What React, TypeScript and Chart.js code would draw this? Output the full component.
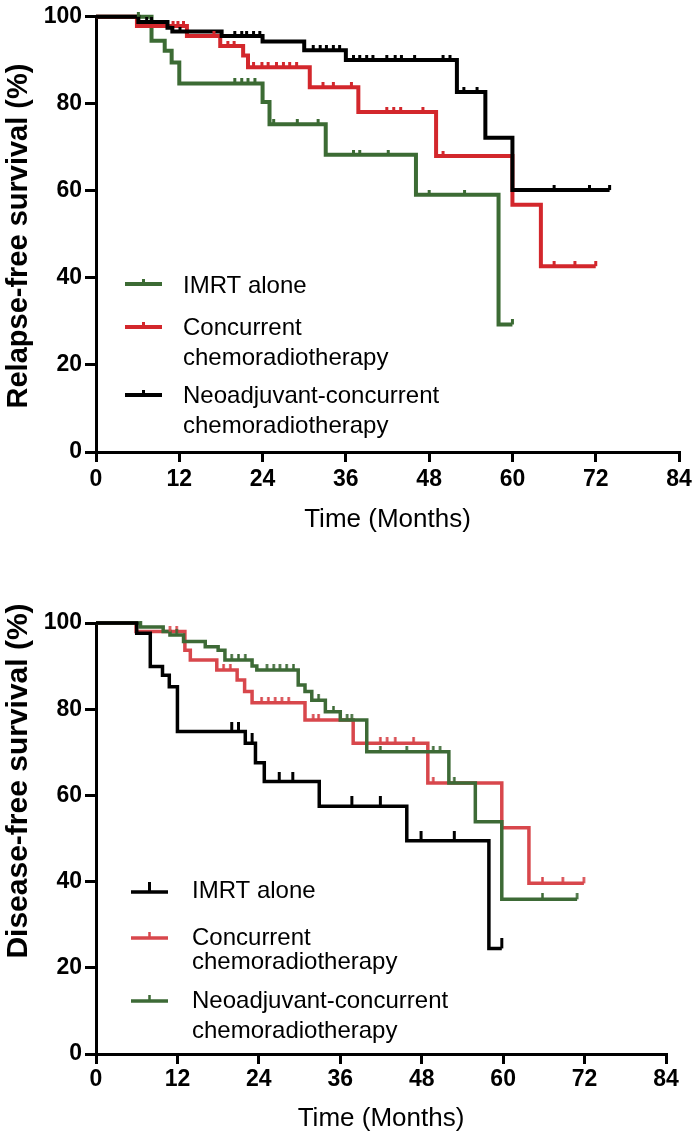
import React, { useEffect, useRef } from "react";
import { Chart, registerables } from "chart.js";
Chart.register(...registerables);

const FONT = "'Liberation Sans', Arial, Helvetica, sans-serif";

// ---------- shared axis ticks ----------
const xTickValues = [0, 12, 24, 36, 48, 60, 72, 84];
const yTickValues = [0, 20, 40, 60, 80, 100];

// ---------- Relapse-free survival (top) ----------
const rfsImrtTimes = [0, 8.0, 9.9, 10.9, 12.0, 24.0, 25.0, 33.1, 46.1, 58.0, 60.0];
const rfsImrtSurv = [100, 94.5, 92.2, 89.5, 84.7, 80.4, 75.3, 68.3, 59.1, 29.3, 29.3];
const rfsImrtCensor = [6.1, 20.0, 21.0, 21.9, 22.9, 25.6, 29.0, 32.0, 37.1, 38.0, 42.1, 48.0, 53.1, 60.0];

const rfsCcrtTimes = [0, 5.9, 13.1, 17.9, 21.2, 21.9, 30.8, 37.8, 49.0, 60.0, 64.1, 72.0];
const rfsCcrtSurv = [100, 97.9, 95.6, 93.3, 91.1, 88.4, 83.8, 78.1, 68.0, 56.8, 42.7, 42.7];
const rfsCcrtCensor = [11.1, 11.8, 12.6, 17.0, 19.0, 19.9, 22.7, 23.9, 24.8, 26.0, 27.0, 27.9, 28.9, 32.7, 34.2, 36.8, 41.9, 42.9, 43.9, 47.1, 50.0, 66.0, 69.0, 72.0];

const rfsNccrtTimes = [0, 6.1, 10.3, 11.0, 18.1, 24.0, 30.0, 36.0, 52.0, 56.1, 60.0, 74.0];
const rfsNccrtSurv = [100, 98.8, 97.5, 96.6, 95.6, 94.3, 92.3, 90.1, 82.7, 72.2, 60.2, 60.2];
const rfsNccrtCensor = [7.3, 8.0, 12.1, 20.0, 21.0, 21.7, 22.7, 23.6, 31.3, 32.3, 33.2, 34.2, 35.1, 37.1, 38.0, 39.0, 39.9, 41.9, 43.1, 44.0, 45.9, 50.0, 51.0, 53.0, 54.9, 66.0, 71.1, 74.0];

// ---------- Disease-free survival (bottom) ----------
const dfsImrtTimes = [0, 6.0, 8.0, 9.8, 10.8, 12.0, 22.0, 23.5, 24.8, 32.9, 45.8, 57.9, 59.8];
const dfsImrtSurv = [100, 97.6, 89.9, 87.9, 85.2, 74.8, 72.1, 67.6, 63.2, 57.5, 49.5, 24.5, 24.5];
const dfsImrtCensor = [20.0, 21.0, 23.0, 27.0, 29.0, 37.7, 41.9, 47.9, 52.8, 59.8];

const dfsCcrtTimes = [0, 5.9, 13.1, 13.9, 17.8, 20.8, 21.9, 23.0, 30.8, 37.9, 48.9, 59.8, 63.8, 71.9];
const dfsCcrtSurv = [100, 98.0, 93.7, 91.4, 89.1, 86.8, 84.1, 81.5, 77.5, 72.1, 62.9, 52.5, 39.6, 39.6];
const dfsCcrtCensor = [10.9, 11.9, 18.8, 19.8, 24.4, 25.4, 26.4, 27.4, 28.4, 32.0, 32.8, 41.9, 42.9, 44.1, 46.8, 49.7, 65.8, 68.8, 71.9];

const dfsNccrtTimes = [0, 6.5, 9.9, 10.9, 12.9, 16.1, 18.0, 19.0, 23.0, 23.7, 29.8, 30.8, 31.8, 33.8, 36.0, 39.9, 52.0, 55.9, 59.8, 70.9];
const dfsNccrtSurv = [100, 99.1, 98.0, 97.2, 95.7, 94.5, 93.7, 91.4, 90.0, 89.1, 85.6, 84.1, 82.1, 79.4, 77.5, 70.1, 62.9, 53.9, 35.9, 35.9];
const dfsNccrtCensor = [6.6, 11.9, 20.0, 21.0, 22.0, 25.2, 26.2, 27.1, 28.1, 29.1, 32.8, 35.0, 37.0, 37.7, 41.9, 45.8, 49.7, 50.7, 52.8, 65.8, 70.9];

const labelImrt = ["IMRT alone"];
const labelCcrt = ["Concurrent", "chemoradiotherapy"];
const labelNccrt = ["Neoadjuvant-concurrent", "chemoradiotherapy"];

const GREEN_TOP = "#3c6b34";
const RED_TOP = "#d3272c";
const GREEN_BOT = "#3d6a36";
const RED_BOT = "#d8474c";
const BLACK = "#000000";

function survAt(times: number[], surv: number[], t: number) {
  let v = surv[0];
  for (let i = 0; i < times.length; i++) if (times[i] <= t + 1e-9) v = surv[i];
  return v;
}

function makeMark(color: string, up: number, w: number) {
  const c = document.createElement("canvas");
  c.width = Math.ceil(w) + 2;
  c.height = up * 2;
  const g = c.getContext("2d")!;
  g.fillStyle = color;
  g.fillRect((c.width - w) / 2, 0, w, up);
  return c;
}

const legendPlugin = {
  id: "kmLegend",
  afterDraw(chart: any, _args: any, opts: any) {
    const { ctx } = chart;
    ctx.save();
    opts.items.forEach((it: any) => {
      ctx.strokeStyle = it.color;
      ctx.lineWidth = opts.lineWidth;
      ctx.lineCap = "butt";
      ctx.beginPath();
      ctx.moveTo(opts.x1, it.y);
      ctx.lineTo(opts.x2, it.y);
      ctx.stroke();
      if (it.mark) {
        ctx.drawImage(it.mark, (opts.x1 + opts.x2) / 2 - it.mark.width / 2, it.y - it.mark.height / 2);
      }
      ctx.fillStyle = "#000";
      ctx.font = opts.font;
      ctx.textAlign = "left";
      ctx.textBaseline = "middle";
      it.lines.forEach((t: string, i: number) => {
        ctx.fillText(t, opts.textX, it.textY + i * it.gap);
      });
    });
    ctx.restore();
  },
};

const yTitlePlugin = {
  id: "yTitle",
  afterDraw(chart: any, _args: any, opts: any) {
    const { ctx } = chart;
    ctx.save();
    ctx.translate(opts.x, opts.y);
    ctx.rotate(-Math.PI / 2);
    ctx.font = opts.font;
    ctx.fillStyle = "#000";
    ctx.textAlign = "center";
    ctx.textBaseline = "middle";
    ctx.fillText(opts.text, 0, 0);
    ctx.restore();
  },
};

type Group = {
  times: number[];
  surv: number[];
  censor: number[];
  color: string;
  lineWidth: number;
  mark: HTMLCanvasElement;
};

function buildConfig(p: any) {
  const groups: Group[] = p.groups;
  const datasets: any[] = [];
  groups.forEach((g) => {
    datasets.push({
      type: "line",
      data: g.times.map((t, i) => ({ x: t, y: g.surv[i] })),
      borderColor: g.color,
      borderWidth: g.lineWidth,
      stepped: true,
      pointRadius: 0,
      fill: false,
      clip: false,
      order: 1,
    });
    datasets.push({
      type: "scatter",
      data: g.censor.map((t) => ({ x: t, y: survAt(g.times, g.surv, t) })),
      pointStyle: g.mark,
      pointRadius: 4,
      showLine: false,
      clip: false,
      order: 0,
    });
  });

  const tickFont = { family: FONT, size: 23, weight: "bold" as const };
  return {
    type: "line",
    data: { datasets },
    options: {
      responsive: false,
      animation: false,
      devicePixelRatio: 1,
      events: [],
      layout: { padding: p.padding },
      plugins: {
        legend: { display: false },
        tooltip: { enabled: false },
        kmLegend: p.legend,
        yTitle: p.yTitle,
      },
      scales: {
        x: {
          type: "linear",
          min: 0,
          max: 84,
          afterBuildTicks: (s: any) => {
            s.ticks = xTickValues.map((v) => ({ value: v }));
          },
          afterFit: (s: any) => {
            s.height = p.xHeight;
          },
          ticks: { font: tickFont, color: "#000", padding: p.xTickPad, maxRotation: 0, autoSkip: false },
          grid: { drawOnChartArea: false, drawTicks: true, tickLength: 10, color: "#000", lineWidth: 3 },
          border: { display: true, color: "#000", width: 3 },
          title: {
            display: true,
            text: "Time (Months)",
            color: "#000",
            font: { family: FONT, size: 26, weight: "normal" },
            padding: { top: 0, bottom: p.xTitlePad },
          },
        },
        y: {
          type: "linear",
          min: 0,
          max: 100,
          afterBuildTicks: (s: any) => {
            s.ticks = yTickValues.map((v) => ({ value: v }));
          },
          afterFit: (s: any) => {
            s.width = 96;
          },
          ticks: { font: tickFont, color: "#000", padding: 3 },
          grid: { drawOnChartArea: false, drawTicks: true, tickLength: 11, color: "#000", lineWidth: 3 },
          border: { display: true, color: "#000", width: 3 },
        },
      },
    },
    plugins: [legendPlugin, yTitlePlugin],
  };
}

function KMChart({ make, top, height }: { make: () => any; top: number; height: number }) {
  const ref = useRef<HTMLCanvasElement>(null);
  useEffect(() => {
    const chart = new Chart(ref.current as HTMLCanvasElement, make());
    return () => chart.destroy();
  }, []);
  return (
    <canvas
      ref={ref}
      width={699}
      height={height}
      style={{ position: "absolute", left: 0, top, width: 699, height, display: "block" }}
    />
  );
}

function makeTop() {
  const mG = makeMark(GREEN_TOP, 5, 3);
  const mR = makeMark(RED_TOP, 5, 3);
  const mB = makeMark(BLACK, 5, 3);
  return buildConfig({
    padding: { top: 14, right: 20, left: 0, bottom: 0 },
    xHeight: 93,
    xTickPad: 4,
    xTitlePad: 10,
    groups: [
      { times: rfsNccrtTimes, surv: rfsNccrtSurv, censor: rfsNccrtCensor, color: BLACK, lineWidth: 4, mark: mB },
      { times: rfsCcrtTimes, surv: rfsCcrtSurv, censor: rfsCcrtCensor, color: RED_TOP, lineWidth: 4, mark: mR },
      { times: rfsImrtTimes, surv: rfsImrtSurv, censor: rfsImrtCensor, color: GREEN_TOP, lineWidth: 4, mark: mG },
    ],
    legend: {
      x1: 125,
      x2: 162,
      textX: 183,
      lineWidth: 4,
      font: `24px ${FONT}`,
      items: [
        { lines: labelImrt, color: GREEN_TOP, y: 284, textY: 286, gap: 30, mark: mG },
        { lines: labelCcrt, color: RED_TOP, y: 327, textY: 328.5, gap: 30, mark: mR },
        { lines: labelNccrt, color: BLACK, y: 395, textY: 396.5, gap: 29.5, mark: mB },
      ],
    },
    yTitle: { text: "Relapse-free survival (%)", x: 19, y: 236, font: `bold 29px ${FONT}` },
  });
}

function makeBottom() {
  const mB = makeMark(BLACK, 10, 3);
  const mR = makeMark(RED_BOT, 6, 2.5);
  const mG = makeMark(GREEN_BOT, 6, 2.5);
  return buildConfig({
    padding: { top: 78, right: 33, left: 0, bottom: 0 },
    xHeight: 87,
    xTickPad: 2,
    xTitlePad: 7,
    groups: [
      { times: dfsImrtTimes, surv: dfsImrtSurv, censor: dfsImrtCensor, color: BLACK, lineWidth: 3.5, mark: mB },
      { times: dfsNccrtTimes, surv: dfsNccrtSurv, censor: dfsNccrtCensor, color: GREEN_BOT, lineWidth: 3.5, mark: mG },
      { times: dfsCcrtTimes, surv: dfsCcrtSurv, censor: dfsCcrtCensor, color: RED_BOT, lineWidth: 3.5, mark: mR },
    ],
    legend: {
      x1: 131,
      x2: 168,
      textX: 192,
      lineWidth: 3.5,
      font: `24px ${FONT}`,
      items: [
        { lines: labelImrt, color: BLACK, y: 347, textY: 346.5, gap: 30, mark: mB },
        { lines: labelCcrt, color: RED_BOT, y: 393, textY: 393.5, gap: 24, mark: mR },
        { lines: labelNccrt, color: GREEN_BOT, y: 456, textY: 456.5, gap: 30, mark: mG },
      ],
    },
    yTitle: { text: "Disease-free survival (%)", x: 19, y: 236, font: `bold 30px ${FONT}` },
  });
}

export default function App() {
  return (
    <div style={{ position: "absolute", left: 0, top: 0, width: 699, height: 1141, background: "#fff", overflow: "hidden" }}>
      <KMChart make={makeTop} top={0} height={545} />
      <KMChart make={makeBottom} top={545} height={596} />
    </div>
  );
}
